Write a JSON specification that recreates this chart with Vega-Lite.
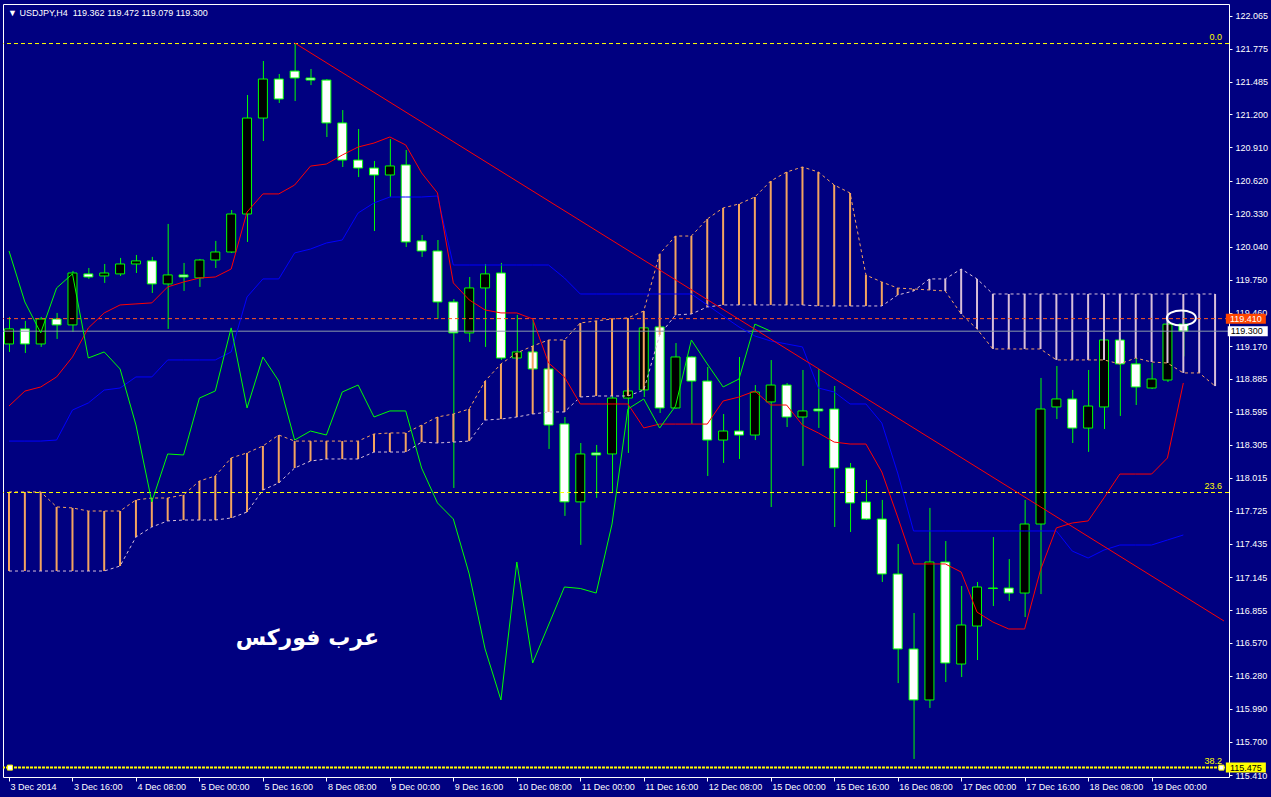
{
  "$schema": "https://vega.github.io/schema/vega-lite/v6.json",
  "width": 1226,
  "height": 773,
  "autosize": {"type": "none"},
  "padding": {"left": 3, "top": 4, "right": 42, "bottom": 20},
  "background": "#000080",
  "title": {"text": "▼ USDJPY,H4\u00a0 119.362 119.472 119.079 119.300", "anchor": "start", "frame": "group", "orient": "top", "offset": -21, "baseline": "alphabetic", "color": "#FFFFFF", "font": "Liberation Sans", "fontSize": 9, "fontWeight": "normal", "dx": 5},
  "config": {
    "view": {"stroke": "#FFFFFF", "strokeWidth": 1, "fill": "#000080"},
    "axis": {"grid": false, "domain": false, "labelColor": "#FFFFFF", "tickColor": "#FFFFFF", "labelFont": "Liberation Sans", "labelFontSize": 9, "labelOverlap": false, "labelFlush": false, "labelBound": false}
  },
  "datasets": {
    "bars": [
      {"k":0,"o":119.188,"h":119.425,"l":119.118,"c":119.320,"tk":118.644,"kj":118.337,"ch":120.003,"sa":117.891,"sb":117.198},
      {"k":1,"o":119.320,"h":119.390,"l":119.109,"c":119.188,"tk":118.775,"kj":118.337,"ch":119.556,"sa":117.891,"sb":117.198},
      {"k":2,"o":119.188,"h":119.425,"l":119.162,"c":119.407,"tk":118.811,"kj":118.337,"ch":119.285,"sa":117.891,"sb":117.198},
      {"k":3,"o":119.407,"h":119.460,"l":119.232,"c":119.355,"tk":118.899,"kj":118.346,"ch":119.679,"sa":117.760,"sb":117.198},
      {"k":4,"o":119.355,"h":119.828,"l":119.294,"c":119.810,"tk":119.074,"kj":118.609,"ch":119.802,"sa":117.751,"sb":117.198},
      {"k":5,"o":119.802,"h":119.854,"l":119.758,"c":119.775,"tk":119.328,"kj":118.671,"ch":119.065,"sa":117.724,"sb":117.198},
      {"k":6,"o":119.784,"h":119.889,"l":119.723,"c":119.810,"tk":119.460,"kj":118.784,"ch":119.118,"sa":117.724,"sb":117.198},
      {"k":7,"o":119.802,"h":119.942,"l":119.784,"c":119.889,"tk":119.530,"kj":118.802,"ch":118.969,"sa":117.724,"sb":117.242},
      {"k":8,"o":119.889,"h":119.968,"l":119.810,"c":119.916,"tk":119.539,"kj":118.899,"ch":118.478,"sa":117.821,"sb":117.496},
      {"k":9,"o":119.916,"h":119.951,"l":119.635,"c":119.714,"tk":119.548,"kj":118.899,"ch":117.804,"sa":117.838,"sb":117.584},
      {"k":10,"o":119.714,"h":120.240,"l":119.320,"c":119.793,"tk":119.688,"kj":119.048,"ch":118.224,"sa":117.838,"sb":117.637},
      {"k":11,"o":119.793,"h":119.898,"l":119.653,"c":119.775,"tk":119.731,"kj":119.048,"ch":118.215,"sa":117.865,"sb":117.645},
      {"k":12,"o":119.767,"h":119.933,"l":119.688,"c":119.924,"tk":119.766,"kj":119.048,"ch":118.714,"sa":117.987,"sb":117.645},
      {"k":13,"o":119.924,"h":120.091,"l":119.854,"c":119.994,"tk":119.775,"kj":119.048,"ch":118.776,"sa":118.031,"sb":117.645},
      {"k":14,"o":119.994,"h":120.362,"l":119.985,"c":120.327,"tk":119.845,"kj":119.118,"ch":119.329,"sa":118.189,"sb":117.663},
      {"k":15,"o":120.327,"h":121.370,"l":120.082,"c":121.168,"tk":120.344,"kj":119.600,"ch":118.627,"sa":118.233,"sb":117.715},
      {"k":16,"o":121.168,"h":121.668,"l":120.967,"c":121.510,"tk":120.503,"kj":119.758,"ch":119.074,"sa":118.294,"sb":117.908},
      {"k":17,"o":121.510,"h":121.554,"l":121.300,"c":121.335,"tk":120.503,"kj":119.758,"ch":118.863,"sa":118.390,"sb":117.970},
      {"k":18,"o":121.580,"h":121.826,"l":121.317,"c":121.519,"tk":120.581,"kj":119.986,"ch":118.346,"sa":118.337,"sb":118.101},
      {"k":19,"o":121.519,"h":121.598,"l":121.457,"c":121.501,"tk":120.747,"kj":120.020,"ch":118.425,"sa":118.337,"sb":118.162},
      {"k":20,"o":121.501,"h":121.510,"l":121.002,"c":121.125,"tk":120.765,"kj":120.073,"ch":118.390,"sa":118.337,"sb":118.180},
      {"k":21,"o":121.125,"h":121.238,"l":120.739,"c":120.800,"tk":120.844,"kj":120.099,"ch":118.767,"sa":118.337,"sb":118.180},
      {"k":22,"o":120.800,"h":121.072,"l":120.651,"c":120.730,"tk":120.914,"kj":120.336,"ch":118.828,"sa":118.337,"sb":118.180},
      {"k":23,"o":120.730,"h":120.792,"l":120.178,"c":120.669,"tk":120.949,"kj":120.424,"ch":118.548,"sa":118.399,"sb":118.241},
      {"k":24,"o":120.669,"h":120.984,"l":120.476,"c":120.748,"tk":121.002,"kj":120.476,"ch":118.601,"sa":118.408,"sb":118.241},
      {"k":25,"o":120.757,"h":120.888,"l":120.038,"c":120.082,"tk":120.932,"kj":120.476,"ch":118.601,"sa":118.408,"sb":118.241},
      {"k":26,"o":120.091,"h":120.143,"l":119.951,"c":120.003,"tk":120.687,"kj":120.476,"ch":118.101,"sa":118.477,"sb":118.328},
      {"k":27,"o":120.003,"h":120.099,"l":119.407,"c":119.556,"tk":120.512,"kj":120.485,"ch":117.795,"sa":118.548,"sb":118.320},
      {"k":28,"o":119.556,"h":119.582,"l":117.926,"c":119.285,"tk":119.723,"kj":119.880,"ch":117.654,"sa":118.574,"sb":118.328},
      {"k":29,"o":119.285,"h":119.775,"l":119.206,"c":119.679,"tk":119.574,"kj":119.880,"ch":117.172,"sa":118.618,"sb":118.337},
      {"k":30,"o":119.679,"h":119.889,"l":119.162,"c":119.802,"tk":119.486,"kj":119.880,"ch":116.515,"sa":118.863,"sb":118.521},
      {"k":31,"o":119.810,"h":119.898,"l":119.047,"c":119.065,"tk":119.460,"kj":119.880,"ch":116.068,"sa":119.013,"sb":118.530},
      {"k":32,"o":119.065,"h":119.443,"l":119.047,"c":119.118,"tk":119.460,"kj":119.880,"ch":117.277,"sa":119.109,"sb":118.548},
      {"k":33,"o":119.118,"h":119.399,"l":118.960,"c":118.969,"tk":119.407,"kj":119.880,"ch":116.392,"sa":119.170,"sb":118.574},
      {"k":34,"o":118.969,"h":118.986,"l":118.268,"c":118.478,"tk":119.022,"kj":119.880,"ch":116.725,"sa":119.223,"sb":118.592},
      {"k":35,"o":118.487,"h":118.548,"l":117.681,"c":117.804,"tk":118.899,"kj":119.766,"ch":117.058,"sa":119.223,"sb":118.592},
      {"k":36,"o":117.804,"h":118.320,"l":117.427,"c":118.224,"tk":118.662,"kj":119.626,"ch":117.045,"sa":119.372,"sb":118.723},
      {"k":37,"o":118.233,"h":118.303,"l":117.839,"c":118.215,"tk":118.662,"kj":119.626,"ch":117.005,"sa":119.390,"sb":118.732},
      {"k":38,"o":118.224,"h":118.732,"l":117.891,"c":118.714,"tk":118.662,"kj":119.626,"ch":117.610,"sa":119.407,"sb":118.732},
      {"k":39,"o":118.714,"h":118.802,"l":118.233,"c":118.776,"tk":118.662,"kj":119.626,"ch":118.618,"sa":119.416,"sb":118.732},
      {"k":40,"o":118.785,"h":119.372,"l":118.723,"c":119.329,"tk":118.452,"kj":119.626,"ch":118.706,"sa":119.477,"sb":118.784},
      {"k":41,"o":119.337,"h":119.355,"l":118.583,"c":118.627,"tk":118.486,"kj":119.626,"ch":118.451,"sa":119.977,"sb":119.267},
      {"k":42,"o":118.627,"h":119.196,"l":118.620,"c":119.074,"tk":118.486,"kj":119.626,"ch":118.644,"sa":120.134,"sb":119.442},
      {"k":43,"o":119.074,"h":119.080,"l":118.487,"c":118.863,"tk":118.486,"kj":119.626,"ch":119.223,"sa":120.134,"sb":119.451},
      {"k":44,"o":118.863,"h":118.986,"l":118.031,"c":118.346,"tk":118.486,"kj":119.530,"ch":119.013,"sa":120.283,"sb":119.512},
      {"k":45,"o":118.346,"h":118.574,"l":118.145,"c":118.425,"tk":118.688,"kj":119.433,"ch":118.811,"sa":120.380,"sb":119.530},
      {"k":46,"o":118.425,"h":119.074,"l":118.180,"c":118.390,"tk":118.723,"kj":119.337,"ch":118.881,"sa":120.415,"sb":119.530},
      {"k":47,"o":118.390,"h":118.828,"l":118.346,"c":118.767,"tk":118.775,"kj":119.258,"ch":119.362,"sa":120.476,"sb":119.530},
      {"k":48,"o":118.680,"h":119.047,"l":117.759,"c":118.828,"tk":118.653,"kj":119.214,"ch":119.300,"sa":120.616,"sb":119.530},
      {"k":49,"o":118.828,"h":118.846,"l":118.460,"c":118.548,"tk":118.653,"kj":119.188,"sa":120.695,"sb":119.530},
      {"k":50,"o":118.548,"h":118.960,"l":118.119,"c":118.601,"tk":118.477,"kj":119.162,"sa":120.739,"sb":119.530},
      {"k":51,"o":118.618,"h":118.969,"l":118.452,"c":118.601,"tk":118.408,"kj":118.802,"sa":120.695,"sb":119.521},
      {"k":52,"o":118.618,"h":118.820,"l":117.584,"c":118.101,"tk":118.328,"kj":118.767,"sa":120.581,"sb":119.521},
      {"k":53,"o":118.101,"h":118.145,"l":117.540,"c":117.795,"tk":118.311,"kj":118.662,"sa":120.511,"sb":119.521},
      {"k":54,"o":117.803,"h":117.996,"l":117.645,"c":117.654,"tk":118.311,"kj":118.662,"sa":119.792,"sb":119.521},
      {"k":55,"o":117.654,"h":117.821,"l":117.102,"c":117.172,"tk":118.066,"kj":118.495,"sa":119.731,"sb":119.521},
      {"k":56,"o":117.172,"h":117.435,"l":116.216,"c":116.515,"tk":117.672,"kj":118.057,"sa":119.678,"sb":119.617},
      {"k":57,"o":116.515,"h":116.830,"l":115.551,"c":116.068,"tk":117.260,"kj":117.549,"sa":119.670,"sb":119.652},
      {"k":58,"o":116.068,"h":117.751,"l":115.998,"c":117.277,"tk":117.260,"kj":117.549,"sa":119.661,"sb":119.758},
      {"k":59,"o":117.277,"h":117.461,"l":116.225,"c":116.392,"tk":117.260,"kj":117.549,"sa":119.652,"sb":119.758},
      {"k":60,"o":116.383,"h":117.067,"l":116.269,"c":116.725,"tk":117.189,"kj":117.549,"sa":119.451,"sb":119.845},
      {"k":61,"o":116.716,"h":117.102,"l":116.418,"c":117.058,"tk":116.838,"kj":117.549,"sa":119.319,"sb":119.758},
      {"k":62,"o":117.049,"h":117.496,"l":116.891,"c":117.045,"tk":116.751,"kj":117.549,"sa":119.144,"sb":119.626},
      {"k":63,"o":117.049,"h":117.303,"l":116.935,"c":117.005,"tk":116.690,"kj":117.549,"sa":119.144,"sb":119.626},
      {"k":64,"o":117.005,"h":117.821,"l":116.795,"c":117.610,"tk":116.690,"kj":117.549,"sa":119.144,"sb":119.626},
      {"k":65,"o":117.610,"h":118.890,"l":116.996,"c":118.618,"tk":117.207,"kj":117.549,"sa":119.144,"sb":119.626},
      {"k":66,"o":118.636,"h":118.995,"l":118.530,"c":118.706,"tk":117.576,"kj":117.549,"sa":119.048,"sb":119.626},
      {"k":67,"o":118.706,"h":118.785,"l":118.320,"c":118.451,"tk":117.619,"kj":117.373,"sa":119.048,"sb":119.626},
      {"k":68,"o":118.451,"h":118.960,"l":118.242,"c":118.644,"tk":117.637,"kj":117.312,"sa":119.048,"sb":119.626},
      {"k":69,"o":118.636,"h":119.240,"l":118.443,"c":119.223,"tk":117.839,"kj":117.382,"sa":119.048,"sb":119.626},
      {"k":70,"o":119.223,"h":119.240,"l":118.557,"c":119.013,"tk":118.048,"kj":117.426,"sa":119.013,"sb":119.626},
      {"k":71,"o":119.013,"h":119.065,"l":118.653,"c":118.811,"tk":118.048,"kj":117.426,"sa":119.065,"sb":119.626},
      {"k":72,"o":118.802,"h":119.021,"l":118.793,"c":118.881,"tk":118.048,"kj":117.426,"sa":119.030,"sb":119.626},
      {"k":73,"o":118.872,"h":119.380,"l":118.855,"c":119.362,"tk":118.189,"kj":117.470,"sa":119.021,"sb":119.626},
      {"k":74,"o":119.362,"h":119.472,"l":119.079,"c":119.300,"tk":118.846,"kj":117.514,"sa":118.934,"sb":119.626},
      {"k":75,"sa":118.934,"sb":119.626},
      {"k":76,"sa":118.819,"sb":119.626}
    ]
  },
  "encoding": {
    "x": {"field": "k", "type": "quantitative", "title": null,
      "scale": {"domain": [-0.0625, 76.5625], "nice": false, "zero": false},
      "axis": {"orient": "bottom", "values": [0,4,8,12,16,20,24,28,32,36,40,44,48,52,56,60,64,68,72], "tickCount": 40, "tickSize": 4, "labelAlign": "left", "labelBaseline": "top", "labelPadding": 1, "labelOffset": 1, "labelOverlap": false,
        "labelExpr": "['3 Dec 2014','3 Dec 16:00','4 Dec 08:00','5 Dec 00:00','5 Dec 16:00','8 Dec 08:00','9 Dec 00:00','9 Dec 16:00','10 Dec 08:00','11 Dec 00:00','11 Dec 16:00','12 Dec 08:00','15 Dec 00:00','15 Dec 16:00','16 Dec 08:00','17 Dec 00:00','17 Dec 16:00','18 Dec 08:00','19 Dec 00:00'][round(datum.value/4)]"}}
  },
  "layer": [
    {
      "data": {"name": "bars"},
      "transform": [{"filter": "isValid(datum.o)"}],
      "mark": {"type": "rule", "color": "#00FF00", "strokeWidth": 1, "xOffset": 0.5, "clip": true},
      "encoding": {
        "y": {"field": "l", "type": "quantitative", "title": null, "scale": {"domain": [115.3928, 122.1675], "nice": false, "zero": false},
          "axis": {"orient": "right", "values": [122.065,121.775,121.485,121.2,120.91,120.62,120.33,120.04,119.75,119.46,119.17,118.885,118.595,118.305,118.015,117.725,117.435,117.145,116.855,116.57,116.28,115.99,115.7,115.41], "tickCount": 40, "format": ".3f", "tickSize": 3, "labelPadding": 3, "labelAlign": "left", "labelBaseline": "middle", "labelOverlap": false}},
        "y2": {"field": "h"}
      }
    },
    {
      "data": {"name": "bars"},
      "transform": [{"filter": "isValid(datum.o)"}],
      "mark": {"type": "bar", "width": 9, "stroke": "#00FF00", "strokeWidth": 1, "clip": true},
      "encoding": {
        "y": {"field": "o", "type": "quantitative", "title": null, "scale": {"domain": [115.3928, 122.1675], "nice": false, "zero": false}},
        "y2": {"field": "c"},
        "fill": {"condition": {"test": "datum.c > datum.o", "value": "#000000"}, "value": "#FFFFFF"}
      }
    },
    {
      "data": {"name": "bars"},
      "mark": {"type": "rule", "strokeWidth": 2, "clip": true},
      "encoding": {
        "y": {"field": "sa", "type": "quantitative", "title": null, "scale": {"domain": [115.3928, 122.1675], "nice": false, "zero": false}},
        "y2": {"field": "sb"},
        "color": {"condition": {"test": "datum.sa > datum.sb", "value": "#F4A460"}, "value": "#D8BFD8"}
      }
    },
    {
      "data": {"name": "bars"},
      "mark": {"type": "line", "color": "#F4A460", "strokeWidth": 1, "strokeDash": [3, 3], "clip": true},
      "encoding": {
        "y": {"field": "sa", "type": "quantitative", "title": null, "scale": {"domain": [115.3928, 122.1675], "nice": false, "zero": false}}
      }
    },
    {
      "data": {"name": "bars"},
      "mark": {"type": "line", "color": "#D8BFD8", "strokeWidth": 1, "strokeDash": [3, 3], "clip": true},
      "encoding": {
        "y": {"field": "sb", "type": "quantitative", "title": null, "scale": {"domain": [115.3928, 122.1675], "nice": false, "zero": false}}
      }
    },
    {
      "data": {"values": [{"p": 121.821}, {"p": 117.886}]},
      "mark": {"type": "rule", "color": "#FFFF00", "stroke": "#FFFF00", "strokeWidth": 1, "strokeDash": [4, 3]},
      "encoding": {"x": null, "y": {"field": "p", "type": "quantitative", "title": null, "scale": {"domain": [115.3928, 122.1675], "nice": false, "zero": false}}}
    },
    {
      "data": {"values": [{"p": 115.475}]},
      "mark": {"type": "rule", "color": "#FFFF00", "stroke": "#FFFF00", "strokeWidth": 2, "strokeDash": [3, 1]},
      "encoding": {"x": null, "y": {"field": "p", "type": "quantitative", "title": null, "scale": {"domain": [115.3928, 122.1675], "nice": false, "zero": false}}}
    },
    {
      "data": {"values": [{"k": 76.44, "p": 121.821, "lab": "0.0"}, {"k": 76.44, "p": 117.886, "lab": "23.6"}, {"k": 76.44, "p": 115.475, "lab": "38.2"}]},
      "mark": {"type": "text", "color": "#FFFF00", "font": "Liberation Sans", "fontSize": 9, "align": "right", "baseline": "bottom", "dy": -2},
      "encoding": {"y": {"field": "p", "type": "quantitative", "title": null, "scale": {"domain": [115.3928, 122.1675], "nice": false, "zero": false}}, "text": {"field": "lab"}}
    },
    {
      "data": {"values": [{"p": 119.300}]},
      "mark": {"type": "rule", "color": "#8C9AAA", "strokeWidth": 1},
      "encoding": {"x": null, "y": {"field": "p", "type": "quantitative", "title": null, "scale": {"domain": [115.3928, 122.1675], "nice": false, "zero": false}}}
    },
    {
      "data": {"values": [{"p": 119.410}]},
      "mark": {"type": "rule", "color": "#FF5A1E", "strokeWidth": 1, "strokeDash": [4, 3]},
      "encoding": {"x": null, "y": {"field": "p", "type": "quantitative", "title": null, "scale": {"domain": [115.3928, 122.1675], "nice": false, "zero": false}}}
    },
    {
      "data": {"name": "bars"},
      "transform": [{"filter": "isValid(datum.kj)"}],
      "mark": {"type": "line", "color": "#0000FF", "strokeWidth": 1},
      "encoding": {"y": {"field": "kj", "type": "quantitative", "title": null, "scale": {"domain": [115.3928, 122.1675], "nice": false, "zero": false}}}
    },
    {
      "data": {"name": "bars"},
      "transform": [{"filter": "isValid(datum.tk)"}],
      "mark": {"type": "line", "color": "#FF0000", "strokeWidth": 1},
      "encoding": {"y": {"field": "tk", "type": "quantitative", "title": null, "scale": {"domain": [115.3928, 122.1675], "nice": false, "zero": false}}}
    },
    {
      "data": {"name": "bars"},
      "transform": [{"filter": "isValid(datum.ch)"}],
      "mark": {"type": "line", "color": "#00FF00", "strokeWidth": 1},
      "encoding": {"y": {"field": "ch", "type": "quantitative", "title": null, "scale": {"domain": [115.3928, 122.1675], "nice": false, "zero": false}}}
    },
    {
      "data": {"values": [{"k": 18, "p": 121.826}, {"k": 76.5625, "p": 116.760}]},
      "mark": {"type": "line", "color": "#FF0000", "strokeWidth": 1, "clip": true},
      "encoding": {"y": {"field": "p", "type": "quantitative", "title": null, "scale": {"domain": [115.3928, 122.1675], "nice": false, "zero": false}}}
    },
    {
      "data": {"values": [{"k": 73.875, "p": 119.416}]},
      "mark": {"type": "point", "shape": "M-1,0A1,0.52,0,1,0,1,0A1,0.52,0,1,0,-1,0Z", "size": 841, "filled": false, "stroke": "#FFFFFF", "strokeWidth": 2, "opacity": 1},
      "encoding": {"y": {"field": "p", "type": "quantitative", "title": null, "scale": {"domain": [115.3928, 122.1675], "nice": false, "zero": false}}}
    },
    {
      "data": {"values": [{"k": 0.06, "p": 115.475}, {"k": 76.4, "p": 115.475}]},
      "mark": {"type": "point", "shape": "square", "size": 25, "filled": true, "fill": "#FFFFFF", "stroke": "#FFFF00", "strokeWidth": 1, "opacity": 1},
      "encoding": {"y": {"field": "p", "type": "quantitative", "title": null, "scale": {"domain": [115.3928, 122.1675], "nice": false, "zero": false}}}
    },
    {
      "data": {"values": [{"k": 18.8, "p": 116.61, "t": "عرب فوركس"}]},
      "mark": {"type": "text", "color": "#FFFFFF", "font": "DejaVu Sans", "fontSize": 22, "fontWeight": "bold", "align": "center", "baseline": "middle"},
      "encoding": {"y": {"field": "p", "type": "quantitative", "title": null, "scale": {"domain": [115.3928, 122.1675], "nice": false, "zero": false}}, "text": {"field": "t"}}
    },
    {
      "data": {"values": [{"k": 77.94, "p": 119.410}, {"k": 78.06, "p": 119.300}, {"k": 77.94, "p": 115.475}]},
      "mark": {"type": "point", "shape": "M-1,-0.25L1,-0.25L1,0.25L-1,0.25Z", "size": 1600, "filled": true, "strokeWidth": 0, "opacity": 1},
      "encoding": {
        "y": {"field": "p", "type": "quantitative", "title": null, "scale": {"domain": [115.3928, 122.1675], "nice": false, "zero": false}},
        "fill": {"field": "p", "type": "nominal", "scale": {"domain": [119.41, 119.3, 115.475], "range": ["#FF4500", "#FFFFFF", "#FFFF00"]}, "legend": null}
      }
    },
    {
      "data": {"values": [{"k": 77.94, "p": 119.410, "t": "119.410"}, {"k": 78.0, "p": 119.300, "t": "119.300"}, {"k": 77.94, "p": 115.475, "t": "115.475"}]},
      "mark": {"type": "text", "font": "Liberation Sans", "fontSize": 9, "align": "center", "baseline": "middle"},
      "encoding": {
        "y": {"field": "p", "type": "quantitative", "title": null, "scale": {"domain": [115.3928, 122.1675], "nice": false, "zero": false}},
        "text": {"field": "t"},
        "color": {"condition": {"test": "datum.p == 119.41", "value": "#FFFFFF"}, "value": "#000000"}
      }
    }
  ]
}
